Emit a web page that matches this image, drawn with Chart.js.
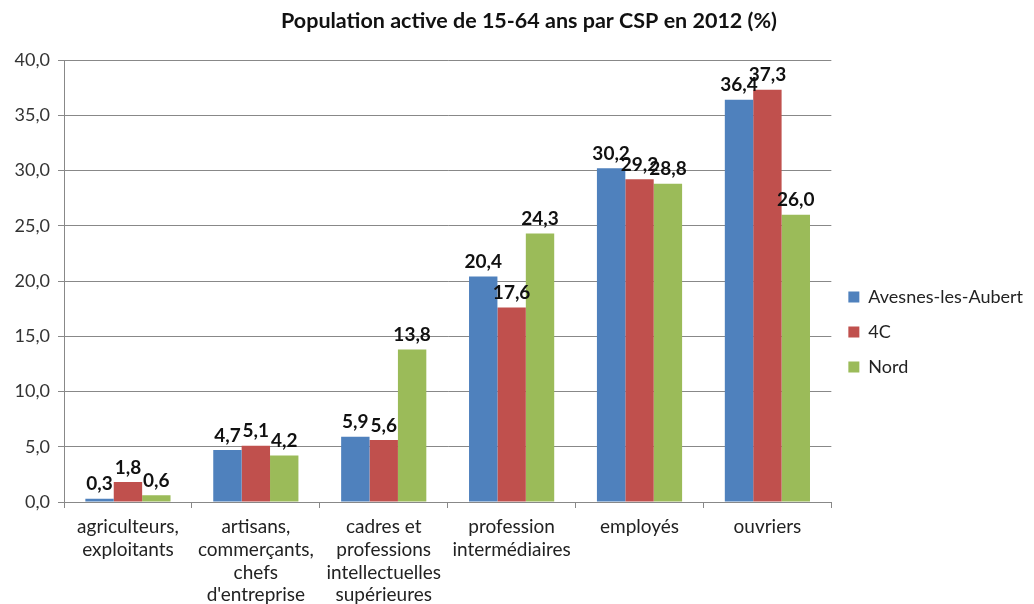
<!DOCTYPE html>
<html><head><meta charset="utf-8">
<script src="https://cdn.jsdelivr.net/npm/chart.js@4/dist/chart.umd.min.js"></script>
<style>html,body{margin:0;padding:0;background:#fff}#wrap{width:1034px;height:604px}</style>
</head><body><div id="wrap"><canvas id="c" width="1034" height="604"></canvas></div>
<script>
const titleText = 'Population active de 15-64 ans par CSP en 2012 (%)';
const categories = [
  ["agriculteurs,", "exploitants"],
  ["artisans,", "commerçants,", "chefs", "d'entreprise"],
  ["cadres et", "professions", "intellectuelles", "supérieures"],
  ["profession", "intermédiaires"],
  ["employés"],
  ["ouvriers"]
];
const seriesNames = ["Avesnes-les-Aubert", "4C", "Nord"];
const avesnes = [0.3, 4.7, 5.9, 20.4, 30.2, 36.4];
const c4 = [1.8, 5.1, 5.6, 17.6, 29.2, 37.3];
const nord = [0.6, 4.2, 13.8, 24.3, 28.8, 26.0];
const colors = ["#4F81BD", "#C0504D", "#9BBB59"];

const FONT = 'Lato, "Open Sans", sans-serif';
const fmt = v => v.toFixed(1).replace('.', ',');

const labelPlugin = {
  id: 'vals',
  afterDatasetsDraw(chart) {
    const ctx = chart.ctx;
    ctx.save();
    ctx.font = 'bold 19px ' + FONT;
    ctx.fillStyle = '#111';
    ctx.textAlign = 'center';
    ctx.textBaseline = 'bottom';
    chart.data.datasets.forEach((ds, i) => {
      chart.getDatasetMeta(i).data.forEach((bar, j) => {
        ctx.fillText(fmt(ds.data[j]), bar.x, bar.y - 5);
      });
    });
    ctx.restore();
  }
};

const titlePlugin = {
  id: 'topTitle',
  afterDraw(chart) {
    const ctx = chart.ctx;
    ctx.save();
    ctx.font = 'bold 21.5px ' + FONT;
    ctx.fillStyle = '#111';
    ctx.textAlign = 'center';
    ctx.textBaseline = 'middle';
    ctx.fillText(titleText, 529, 21);
    ctx.restore();
  }
};

new Chart(document.getElementById('c'), {
  type: 'bar',
  data: {
    labels: categories,
    datasets: [
      { label: seriesNames[0], data: avesnes, backgroundColor: colors[0] },
      { label: seriesNames[1], data: c4, backgroundColor: colors[1] },
      { label: seriesNames[2], data: nord, backgroundColor: colors[2] }
    ]
  },
  options: {
    responsive: false,
    animation: false,
    layout: { padding: { left: 0, right: 1, top: 60, bottom: 0 } },
    datasets: { bar: { categoryPercentage: 0.666, barPercentage: 1.0 } },
    plugins: {
      title: { display: false },
      legend: {
        position: 'right',
        labels: {
          font: { family: FONT, size: 18 },
          color: '#222',
          boxWidth: 11, boxHeight: 11,
          padding: 17
        }
      },
      tooltip: { enabled: false }
    },
    scales: {
      y: {
        min: 0, max: 40,
        afterFit: s => { s.width = 64; },
        ticks: {
          stepSize: 5,
          callback: v => fmt(v),
          font: { family: FONT, size: 18 },
          color: '#333',
          padding: 8
        },
        grid: { color: '#888', tickLength: 6 },
        border: { color: '#888' }
      },
      x: {
        afterFit: s => { s.height = 102; },
        ticks: {
          font: { family: FONT, size: 19, lineHeight: 1.19 },
          color: '#222',
          maxRotation: 0,
          autoSkip: false,
          padding: 8
        },
        grid: { drawOnChartArea: false, color: '#888', tickLength: 6, offset: true },
        border: { color: '#888' }
      }
    }
  },
  plugins: [labelPlugin, titlePlugin]
});
</script></body></html>
